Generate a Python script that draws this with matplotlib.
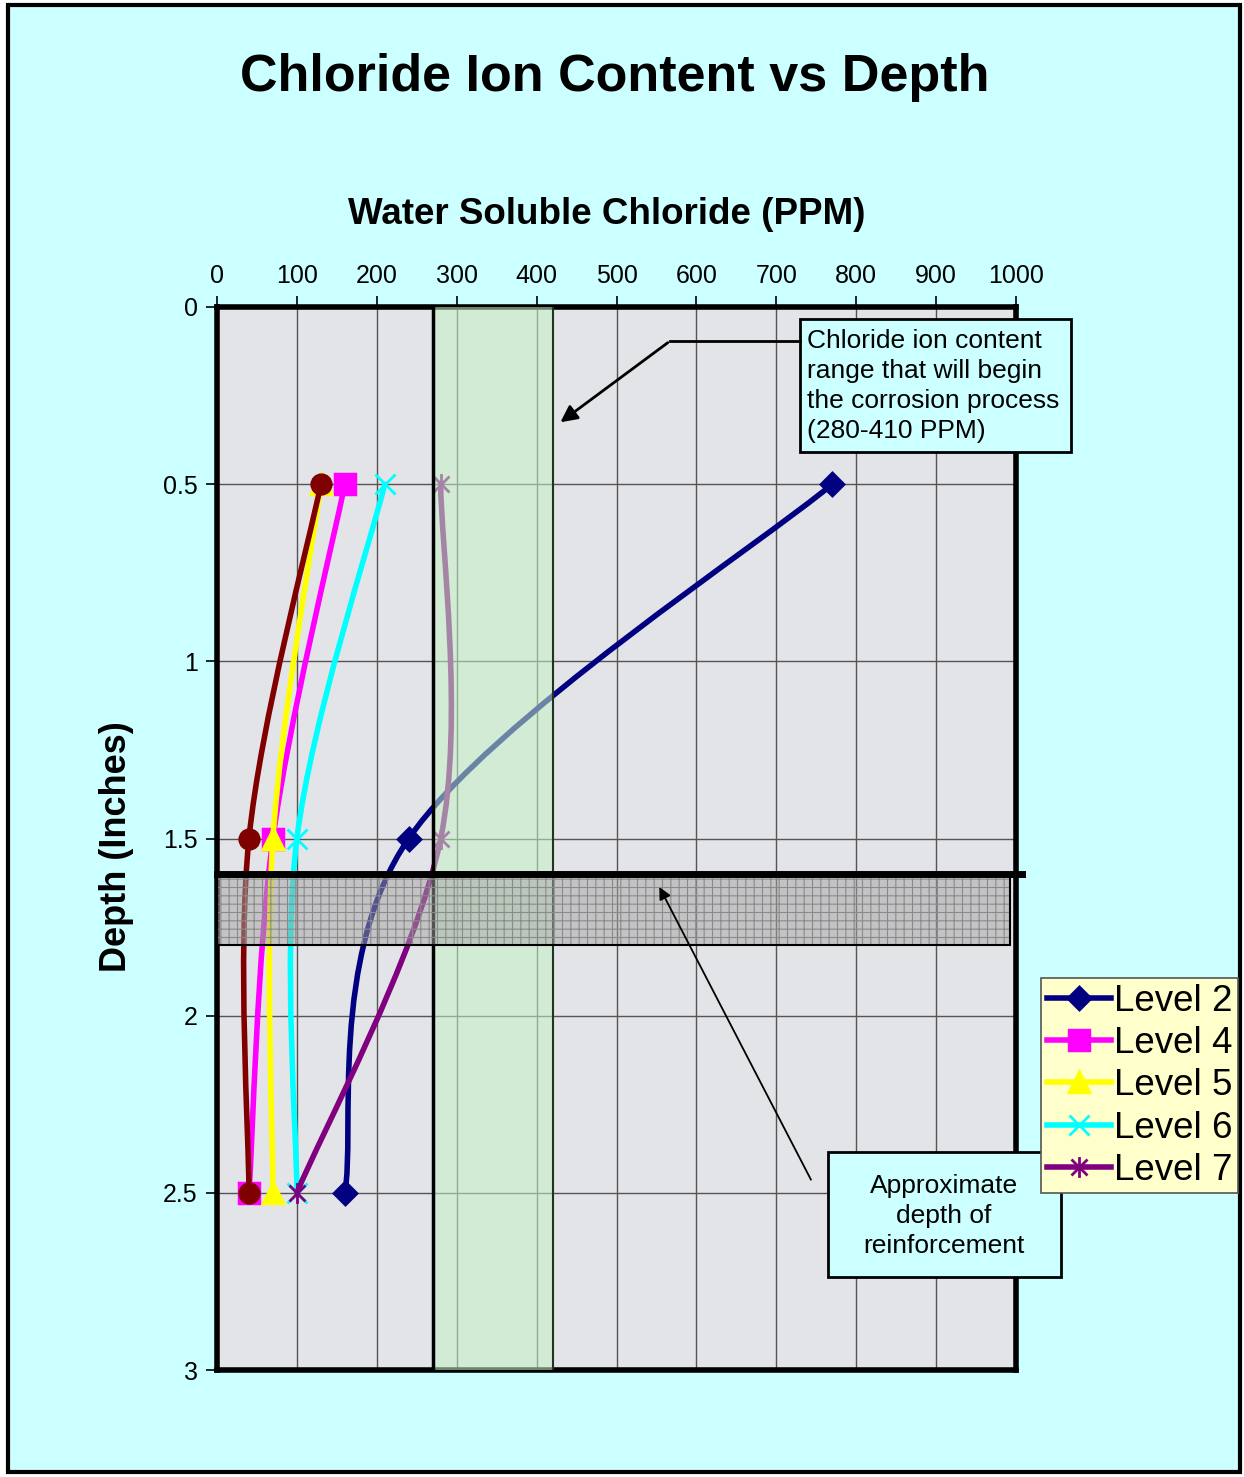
import matplotlib
matplotlib.use("Agg")
import matplotlib.pyplot as plt
from matplotlib.lines import Line2D
from matplotlib.patches import PathPatch, Rectangle
from matplotlib.path import Path

plt.rcParams["font.family"] = ["Liberation Sans", "DejaVu Sans"]
plt.rcParams["hatch.linewidth"] = 0.8

depths = [0.5, 1.5, 2.5]
series_names = ["Level 2", "Level 4", "Level 5", "Level 6", "Level 7", "_Level 8"]
level2 = [770, 240, 160]
level4 = [160, 70, 40]
level5 = [130, 70, 70]
level6 = [210, 100, 100]
level7 = [280, 280, 100]
level8 = [130, 40, 40]
corrosion_range = (270, 420)
rebar_depth = (1.6, 1.8)

x_ticks = [0, 100, 200, 300, 400, 500, 600, 700, 800, 900, 1000]
y_ticks = [0, 0.5, 1, 1.5, 2, 2.5, 3]
y_tick_labels = ["0", "0.5", "1", "1.5", "2", "2.5", "3"]

asterisk = Path([(-1, -1), (1, 1), (-1, 1), (1, -1), (0, -1.3), (0, 1.3)],
                [Path.MOVETO, Path.LINETO, Path.MOVETO, Path.LINETO, Path.MOVETO, Path.LINETO])

styles = [
    dict(color="#000080", marker="D", ms=11, mew=2.5),
    dict(color="#ff00ff", marker="s", ms=14, mew=2.5),
    dict(color="#ffff00", marker="^", ms=14, mew=2.5),
    dict(color="#00ffff", marker="x", ms=15, mew=2),
    dict(color="#800080", marker=asterisk, ms=15, mew=2),
    dict(color="#800000", marker="o", ms=14, mew=2),
]


def smooth_path(xs, ys):
    # Excel-style smoothed line: cubic bezier through points
    pts = list(zip(xs, ys))
    n = len(pts)
    verts = [pts[0]]
    codes = [Path.MOVETO]
    for i in range(n - 1):
        p_prev = pts[max(i - 1, 0)]
        p0 = pts[i]
        p1 = pts[i + 1]
        p_next = pts[min(i + 2, n - 1)]
        c1 = (p0[0] + (p1[0] - p_prev[0]) / 6, p0[1] + (p1[1] - p_prev[1]) / 6)
        c2 = (p1[0] - (p_next[0] - p0[0]) / 6, p1[1] - (p_next[1] - p0[1]) / 6)
        verts += [c1, c2, p1]
        codes += [Path.CURVE4] * 3
    return Path(verts, codes)


fig = plt.figure(figsize=(12.44, 14.77), dpi=100, facecolor="white")
fig.patches.append(Rectangle((8 / 1244, 5 / 1477), 1232 / 1244, 1467 / 1477,
                             transform=fig.transFigure, facecolor="#ccffff",
                             edgecolor="black", linewidth=3, zorder=-10))

ax = fig.add_axes([217 / 1244, 1 - 1370 / 1477, 799 / 1244, 1063 / 1477])
ax.set_facecolor("#e3e4e8")
ax.set_xlim(0, 1000)
ax.set_ylim(3, 0)
ax.xaxis.tick_top()
ax.set_xticks(x_ticks)
ax.set_yticks(y_ticks)
ax.set_yticklabels(y_tick_labels)
ax.tick_params(labelsize=18, length=8, width=1.2, pad=6, direction="out")
ax.grid(True, color="#555555", linewidth=1.0)
ax.set_axisbelow(True)
for s in ax.spines.values():
    s.set_linewidth(4)

all_series = [level2, level4, level5, level6, level7, level8]
for k, vals in enumerate(all_series):
    st = styles[k]
    ax.add_patch(PathPatch(smooth_path(vals, depths), fill=False, edgecolor=st["color"],
                           linewidth=4, zorder=3 + 0.1 * k, capstyle="round"))
    ax.plot(vals, depths, linestyle="none", marker=st["marker"], ms=st["ms"],
            color=st["color"], mec=st["color"], mew=st["mew"], zorder=3.05 + 0.1 * k)

# corrosion range band
ax.axvspan(*corrosion_range, facecolor="#c4f2c4", alpha=0.55, zorder=5)
ax.axvline(corrosion_range[0], color="black", linewidth=2.5, zorder=6)
ax.axvline(corrosion_range[1], color="#223322", linewidth=1.5, zorder=6)

# reinforcement depth band
band_w = 992
ax.add_patch(Rectangle((0, rebar_depth[0]), band_w, rebar_depth[1] - rebar_depth[0],
                       facecolor="#a4a4a4", alpha=0.5, edgecolor="none", zorder=7))
ax.add_patch(Rectangle((0, rebar_depth[0]), band_w, rebar_depth[1] - rebar_depth[0],
                       facecolor="none", edgecolor="#8a8a8a", hatch="++", linewidth=0, zorder=7))
ax.add_patch(Rectangle((0, rebar_depth[0]), band_w, rebar_depth[1] - rebar_depth[0],
                       facecolor="none", edgecolor="black", linewidth=1.5, zorder=8))
ax.plot([0, 1008], [rebar_depth[0]] * 2, color="black", linewidth=5, zorder=9, clip_on=False)

# callout: corrosion range
ax.add_patch(Rectangle((730, 0.034), 339, 0.375, facecolor="#ccffff", edgecolor="black",
                       linewidth=2, zorder=10, clip_on=False))
ax.text(739, 0.222, "Chloride ion content\nrange that will begin\nthe corrosion process\n(280-410 PPM)",
        fontsize=19, ha="left", va="center", linespacing=1.32, zorder=11, clip_on=False)
ax.plot([730, 567], [0.096, 0.096], color="black", linewidth=2, zorder=10, clip_on=False)
ax.annotate("", xy=(427, 0.33), xytext=(567, 0.096),
            arrowprops=dict(arrowstyle="-|>", color="black", lw=2, mutation_scale=25),
            zorder=10, annotation_clip=False)

# callout: reinforcement depth
ax.annotate("", xy=(552, 1.63), xytext=(745, 2.47),
            arrowprops=dict(arrowstyle="-|>", color="black", lw=1.3, mutation_scale=18),
            zorder=10, annotation_clip=False)
ax.add_patch(Rectangle((765, 2.385), 291, 0.353, facecolor="#ccffff", edgecolor="black",
                       linewidth=2, zorder=10, clip_on=False))
ax.text(910, 2.565, "Approximate\ndepth of\nreinforcement", fontsize=19, ha="center", va="center",
        linespacing=1.32, zorder=11, clip_on=False)

# legend
handles = [Line2D([], [], color=styles[k]["color"], lw=4, marker=styles[k]["marker"],
                  ms=styles[k]["ms"], mec=styles[k]["color"], mew=styles[k]["mew"])
           for k in range(5)]
leg = fig.legend(handles, series_names[:5], loc="upper left", bbox_to_anchor=(1041 / 1244, 1 - 978 / 1477),
                 fontsize=26.5, frameon=True, fancybox=False, framealpha=1, facecolor="#ffffcc",
                 edgecolor="#555555", handlelength=1.75, handletextpad=0.08, labelspacing=0.2,
                 borderpad=0.15, borderaxespad=0)
leg.get_frame().set_linewidth(1.2)

fig.text(615 / 1244, 1 - 78 / 1477, "Chloride Ion Content vs Depth", fontsize=37.5, fontweight="bold",
         ha="center", va="center")
fig.text(607 / 1244, 1 - 214 / 1477, "Water Soluble Chloride (PPM)", fontsize=26.5, fontweight="bold",
         ha="center", va="center")
fig.text(117 / 1244, 1 - 847 / 1477, "Depth (Inches)", fontsize=26, fontweight="bold",
         ha="center", va="center", rotation=90)

fig.savefig("out.png", dpi=100, facecolor=fig.get_facecolor())
